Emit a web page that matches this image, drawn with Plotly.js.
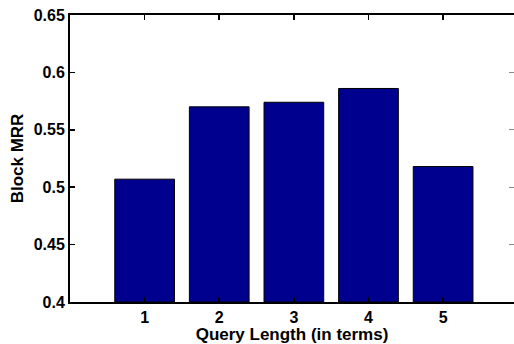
<!DOCTYPE html>
<html>
<head>
<meta charset="utf-8">
<script src="https://cdn.plot.ly/plotly-3.0.1.min.js"></script>
<style>html,body{margin:0;padding:0;background:#fff;}#chart{width:514px;height:344px;}</style>
</head>
<body>
<div id="chart"></div>
<script>
var categories = [1, 2, 3, 4, 5];
var mrrValues = [0.507, 0.570, 0.574, 0.586, 0.518];
var xTickLabels = ['1', '2', '3', '4', '5'];
var yTickValues = [0.4, 0.45, 0.5, 0.55, 0.6, 0.65];
var yTickLabels = ['0.4', '0.45', '0.5', '0.55', '0.6', '0.65'];
var baseValue = 0.4;

var fam = 'Liberation Sans, Arial, Helvetica, sans-serif';
function bold(s){ return '<b>' + s + '</b>'; }

var trace = {
  type: 'bar',
  x: categories,
  y: mrrValues.map(function(v){ return v - baseValue; }),
  base: baseValue,
  width: 0.8,
  marker: {color: '#00008F', line: {color: '#000', width: 1}},
  hoverinfo: 'none'
};
var ghost = {
  type: 'scatter', mode: 'none',
  x: categories, y: mrrValues, yaxis: 'y2', hoverinfo: 'none'
};

var tickFont = {family: fam, size: 16, color: '#000', weight: 'bold'};
var titleFont = {family: fam, size: 17, color: '#000', weight: 'bold'};

var layout = {
  width: 514, height: 344,
  margin: {l: 70, r: 0, t: 15, b: 42},
  paper_bgcolor: '#fff', plot_bgcolor: '#fff',
  font: {family: fam, size: 15, color: '#000'},
  showlegend: false,
  xaxis: {
    range: [0, 5.95],
    tickvals: categories, ticktext: xTickLabels.map(bold),
    ticks: 'inside', ticklen: 5, tickwidth: 1.5, tickcolor: '#000',
    showline: true, linewidth: 2, linecolor: '#000', mirror: 'ticks',
    showgrid: false, zeroline: false,
    tickfont: tickFont,
    title: {text: bold('Query Length (in terms)'), font: titleFont, standoff: 0}
  },
  yaxis: {
    range: [0.4, 0.65],
    tickvals: yTickValues, ticktext: yTickLabels.map(bold),
    ticks: 'inside', ticklen: 5, tickwidth: 1.5, tickcolor: '#000',
    showline: true, linewidth: 2, linecolor: '#000', mirror: false,
    showgrid: false, zeroline: false,
    tickfont: tickFont,
    title: {text: bold('Block MRR'), font: titleFont, standoff: 6}
  },
  yaxis2: {
    overlaying: 'y', side: 'right', matches: 'y',
    range: [0.4, 0.65], tickvals: yTickValues,
    ticks: 'inside', ticklen: 5, tickwidth: 1, tickcolor: '#888',
    showticklabels: false, showline: false, showgrid: false, zeroline: false
  }
};

Plotly.newPlot('chart', [trace, ghost], layout, {displayModeBar: false, staticPlot: true});
</script>
</body>
</html>
